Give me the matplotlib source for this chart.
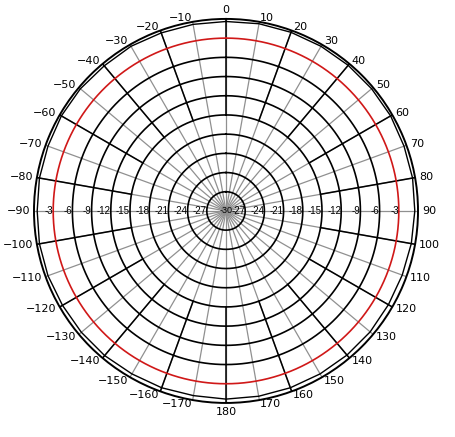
import numpy as np
import matplotlib.pyplot as plt

# grid levels (dB) and angles (deg, clockwise from top)
ring_levels = [-3, -6, -9, -12, -15, -18, -21, -24, -27]
ring_labels = ['-3', '-6', '-9', '-12', '-15', '-18', '-21', '-24', '-27']
spoke_angles = list(range(0, 360, 10))
major_spokes = list(range(0, 360, 20))
angle_labels = [0, 10, 20, 30, 40, 50, 60, 70, 80, 90, 100, 110, 120, 130, 140, 150, 160, 170,
                180, -170, -160, -150, -140, -130, -120, -110, -100, -90, -80, -70, -60, -50,
                -40, -30, -20, -10]

# measured pattern (dB), every 10 deg
pattern_deg = list(range(0, 360, 10))
pattern_db = [-0.4, -0.3, -0.3, -0.3, -0.3, -0.3, -0.3, -0.4, -0.4, -0.5, -0.6, -0.7,
              -0.7, -0.6, -0.6, -0.6, -0.6, -0.6, -0.6, -0.7, -0.6, -0.6, -0.5, -0.5,
              -0.5, -0.4, -0.4, -0.5, -0.4, -0.4, -0.3, -0.3, -0.4, -0.3, -0.4, -0.4]

RMIN, RMAX = -30, 0

fig = plt.figure(figsize=(4.55, 4.37), dpi=100)
ax = fig.add_axes([0.0747, 0.0778, 0.844, 0.879], projection='polar')
ax.set_theta_zero_location('N')
ax.set_theta_direction(-1)
ax.set_ylim(RMIN, RMAX)
ax.grid(False)
ax.set_xticks([])
ax.set_yticks([])
ax.spines['polar'].set_linewidth(1.4)
ax.spines['polar'].set_color('black')

full = np.linspace(0, 2 * np.pi, 361)

# spokes: grey all the way, black on outer half every 20 deg
for a in spoke_angles:
    th = np.deg2rad(a)
    ax.plot([th, th], [RMIN, RMAX], color='#909090', lw=0.9, zorder=1)
for a in major_spokes:
    th = np.deg2rad(a)
    ax.plot([th, th], [-15, RMAX], color='black', lw=1.1, zorder=2)

# rings
for lv in ring_levels:
    c = '#d01818' if lv == -3 else 'black'
    ax.plot(full, np.full_like(full, lv), color=c, lw=1.2, zorder=3)

# pattern
th_p = np.deg2rad(pattern_deg + [360])
r_p = pattern_db + [pattern_db[0]]
ax.plot(th_p, r_p, color='black', lw=1.0, zorder=4)

# radial labels along the horizontal axis
font = dict(family='Liberation Sans', fontsize=7)
for lv, lab in zip(ring_levels, ring_labels):
    for side in (np.pi / 2, 3 * np.pi / 2):
        ax.text(side, lv, lab, ha='right', va='center', zorder=5, **font)
ax.text(0, RMIN, '-30', ha='center', va='center', zorder=5,
        family='Liberation Sans', fontsize=6.5)

# angle labels
for a, lab in zip(spoke_angles, angle_labels):
    th = np.deg2rad(a)
    s = np.sin(th)
    if abs(s) < 1e-6:
        ha = 'center'
        va = 'bottom' if a == 0 else 'top'
    else:
        ha = 'left' if s > 0 else 'right'
        va = 'center'
    ax.text(th, 0.6, str(lab).replace('-', '\u2212'), ha=ha, va=va,
            clip_on=False, family='DejaVu Sans', fontsize=8)

fig.savefig('out.png', dpi=100)
